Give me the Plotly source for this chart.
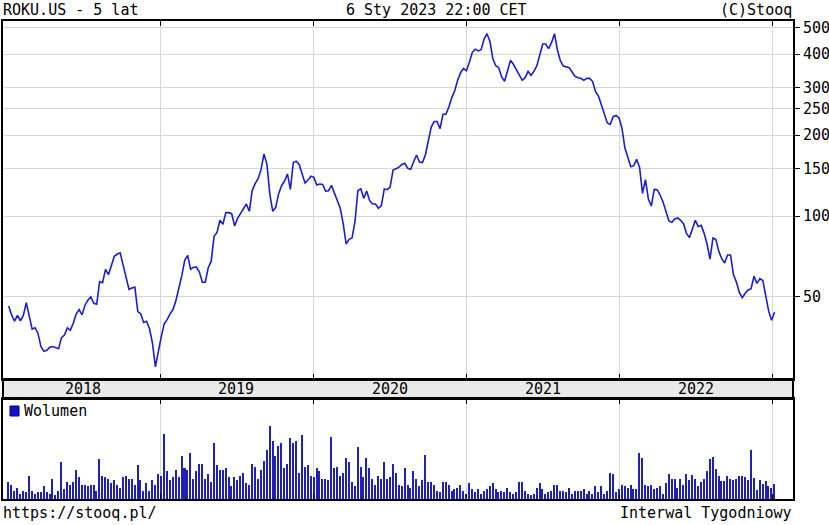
import pandas as pd
import plotly.graph_objects as go

# ---- data ----
start_date = "2018-01-05"
n_weeks = 262

prices = [
    46.3, 42.9, 40.7, 42.7, 40.8, 42.7, 47.6, 42.6, 38.0, 38.4,
    36.6, 32.7, 31.4, 31.7, 32.5, 32.7, 32.3, 32.1, 35.3, 36.1,
    38.4, 37.6, 39.9, 43.2, 44.9, 42.9, 46.6, 48.6, 50.0, 47.4,
    47.0, 57.0, 56.5, 63.3, 60.5, 65.7, 70.8, 72.2, 73.0, 65.7,
    58.5, 53.4, 54.0, 54.4, 44.1, 43.3, 40.2, 40.6, 38.1, 33.7,
    27.5, 31.5, 35.6, 39.7, 41.2, 43.3, 44.9, 48.5, 53.4, 60.0,
    68.4, 71.4, 63.4, 64.5, 64.6, 61.9, 56.7, 56.7, 64.2, 67.8,
    84.0, 86.9, 96.4, 93.1, 102.9, 102.9, 102.0, 91.8, 98.0, 102.3,
    107.4, 110.8, 104.1, 124.6, 131.9, 137.7, 148.7, 170.0, 156.0, 120.4,
    104.1, 107.7, 121.1, 129.6, 134.9, 143.3, 125.6, 158.2, 160.0, 155.5,
    143.3, 132.6, 136.1, 140.5, 139.2, 130.4, 131.5, 131.1, 123.8, 124.2,
    130.0, 121.4, 114.7, 106.8, 93.7, 78.7, 81.9, 82.8, 95.0, 124.2,
    126.3, 116.3, 123.8, 114.0, 110.8, 110.8, 106.8, 109.3, 126.0, 125.3,
    128.2, 148.3, 149.9, 152.0, 155.5, 157.0, 150.4, 149.1, 159.1, 168.6,
    158.7, 157.9, 168.6, 188.4, 214.0, 224.5, 224.5, 211.3, 238.8, 238.8,
    254.2, 275.6, 292.1, 319.5, 341.0, 354.0, 346.7, 372.6, 406.0, 417.0,
    411.0, 415.0, 455.0, 476.0, 446.0, 384.0, 362.0, 356.0, 328.6, 316.8,
    351.0, 379.0, 366.5, 351.0, 332.5, 319.5, 326.8, 345.0, 333.0, 345.0,
    362.0, 400.0, 436.0, 436.0, 419.0, 441.0, 476.0, 414.0, 378.0, 361.0,
    358.0, 356.0, 343.0, 330.5, 326.8, 324.9, 319.5, 324.9, 324.9, 316.0,
    290.0, 279.0, 258.7, 236.7, 221.7, 219.0, 234.0, 236.7, 231.5, 212.0,
    179.0, 165.3, 152.5, 153.9, 162.4, 151.7, 121.4, 136.4, 115.7, 108.9,
    125.6, 125.3, 119.7, 112.7, 104.1, 95.8, 94.7, 97.5, 98.3, 96.4,
    93.4, 86.2, 83.1, 89.7, 96.4, 91.3, 92.3, 86.2, 78.7, 69.2,
    82.8, 81.7, 73.9, 69.4, 66.9, 71.6, 71.6, 60.4, 56.8, 52.0,
    49.7, 51.6, 53.1, 53.7, 59.7, 56.2, 58.5, 57.6, 50.0, 44.3,
    41.0, 43.9,
]

volumes = [
    17.3, 14, 8, 11, 5, 8, 6.7, 23, 8, 5,
    6.7, 6.7, 12.7, 6.7, 5, 20, 3.7, 8, 37, 9.7,
    17.3, 14, 17.3, 29.3, 21.7, 14, 14, 12.7, 14, 14,
    8, 39.7, 23, 21.7, 20.3, 15.7, 18.7, 14, 11, 21.7,
    23, 20.3, 20.3, 14, 33.7, 18.7,
    8, 15.7, 8, 18.7, 14, 24.7, 23, 65, 27.7, 18.7,
    21.7, 29.3, 21.7, 42.7, 30.7, 29.3, 45.7, 20.3, 27.7, 35.3,
    35.3, 20.3, 24.7, 17.3, 56.3, 33.7, 29.3, 29.3, 30.7, 21.7,
    12.7, 21.7, 18.7, 23, 26.3, 15.7, 14, 35.3, 32.3, 20.3,
    29.3, 38.3, 49, 73, 58, 43,
    53, 56.3, 30.7, 35.3, 61, 56.3, 58, 26.3, 64, 32.3,
    33.7, 23, 21.7, 30.7, 27.7, 20.3, 20.3, 18.7, 62.3, 30.7,
    32.3, 23, 26.3, 41.3, 37, 17.3, 12.7, 52, 32.3, 21.7,
    41.3, 30.7, 20.3, 14, 23, 20.3, 37, 20.3, 21.7, 35.3,
    26.3, 14, 12.7, 30.7, 14,
    11, 27.7, 20.3, 12.7, 18.7, 44.3, 17.3, 17.3, 14, 8,
    6.7, 17.3, 17.3, 14, 8, 9.7, 11, 14, 8, 5,
    15.7, 9.7, 6.7, 9.7, 5, 8, 9.7, 12.7, 15.7, 9.7,
    6.7, 8, 6.7, 11, 6.7, 5, 6.7, 17.3, 17.3, 8,
    5, 3.7, 5, 11, 15.7, 9.7,
    5, 6.7, 8, 14, 14, 8, 8, 6.7, 11, 5,
    8, 8, 8, 9.7, 5, 8, 5, 12.7, 6.7, 12.7,
    5, 8, 26.3, 24.7, 6.7, 9.7, 14, 12.7, 11, 14,
    9.7, 9.7, 45.7, 41.3, 14, 12.7, 14, 9.7, 11, 12.7,
    5, 15.7, 24.7, 20.3, 20.3, 11,
    20, 14, 25, 19, 24, 20, 13, 17, 20, 28,
    40, 42, 30, 23, 18, 18, 23, 20, 19, 20,
    23, 23, 22, 19, 49, 21, 9, 19, 15, 18,
    13, 11, 15,
]

years = ["2018", "2019", "2020", "2021", "2022"]
year_mid_dates = ["2018-07-02", "2019-07-02", "2020-07-02", "2021-07-02", "2022-07-02"]
year_bounds = ["2019-01-01", "2020-01-01", "2021-01-01", "2022-01-01", "2023-01-01"]
price_ticks = [50, 100, 150, 200, 250, 300, 400, 500]

dates = pd.date_range(start_date, periods=n_weeks, freq="7D")

# ---- geometry (pixels of 829x525 canvas) ----
W, H = 829, 525
def px(x):
    return x / W
def py(y):
    return 1 - y / H

XL, XR = px(3), px(793)
main_dom = [py(379), py(21)]
vol_dom = [py(499), py(399)]
x_range = ["2017-12-22 11:00", "2023-02-19 00:00"]
y_range = [1.3941, 2.7249]

FONT = "DejaVu Sans Mono"
GRID = "#d6d6d6"
LINE_COL = "#1e1ec8"
BAR_COL = "#2020b4"

fig = go.Figure()
fig.add_trace(go.Scatter(x=dates, y=prices, mode="lines",
                         line=dict(color=LINE_COL, width=1.6),
                         xaxis="x", yaxis="y", showlegend=False, hoverinfo="x+y"))
fig.add_trace(go.Bar(x=dates, y=volumes, marker=dict(color=BAR_COL, line=dict(width=0)),
                     width=86400000 * 3.6, xaxis="x2", yaxis="y2", showlegend=False))

common_x = dict(type="date", range=x_range, tickvals=year_bounds, showticklabels=False,
                ticks="inside", ticklen=5, tickcolor="black", tickwidth=1,
                showline=True, linecolor="black", linewidth=2, mirror="ticks",
                showgrid=True, gridcolor=GRID, gridwidth=1, zeroline=False,
                fixedrange=True)

fig.update_layout(
    width=W, height=H,
    margin=dict(l=0, r=0, t=0, b=0),
    paper_bgcolor="white", plot_bgcolor="white",
    bargap=0,
    xaxis=dict(domain=[XL, XR], anchor="y", **common_x),
    xaxis2=dict(domain=[XL, XR], anchor="y2", **common_x),
    yaxis=dict(domain=main_dom, anchor="x", type="log", range=y_range, side="right",
               tickvals=price_ticks, ticktext=[str(v) for v in price_ticks],
               ticks="outside", ticklen=5, tickcolor="black",
               tickfont=dict(family=FONT, size=15, color="black"),
               showline=True, linecolor="black", linewidth=2, mirror=True,
               showgrid=True, gridcolor=GRID, gridwidth=1, zeroline=False,
               automargin=False),
    yaxis3=dict(overlaying="y", anchor="x", type="log", range=y_range, side="left",
                tickvals=price_ticks, showticklabels=False, ticks="inside", ticklen=4,
                tickcolor="black", showgrid=False, showline=False, zeroline=False),
    yaxis2=dict(domain=vol_dom, anchor="x2", range=[0, 100], showticklabels=False,
                ticks="", showgrid=False, zeroline=False,
                showline=True, linecolor="black", linewidth=2, mirror=True),
    font=dict(family=FONT, size=15, color="black"),
)

shapes = [
    # year band between the panels
    dict(type="rect", xref="paper", yref="paper", x0=XL, x1=XR, y0=py(399), y1=py(379),
         fillcolor="#e9e9e9", line=dict(color="black", width=2), layer="below"),
    # legend swatch
    dict(type="rect", xref="paper", yref="paper", x0=px(10), x1=px(19), y0=py(416), y1=py(406),
         fillcolor="#1212d0", line=dict(color="#000070", width=1)),
]
fig.update_layout(shapes=shapes)

ann = []
for yr, mid in zip(years, year_mid_dates):
    ann.append(dict(x=mid, xref="x", y=py(389), yref="paper", text=yr, showarrow=False,
                    xanchor="center", yanchor="middle", font=dict(family=FONT, size=15)))
ann += [
    dict(x=px(1), y=py(10), xref="paper", yref="paper", text="ROKU.US - 5 lat",
         showarrow=False, xanchor="left", yanchor="middle", font=dict(family=FONT, size=15)),
    dict(x=px(436), y=py(10), xref="paper", yref="paper", text="6 Sty 2023 22:00 CET",
         showarrow=False, xanchor="center", yanchor="middle", font=dict(family=FONT, size=15)),
    dict(x=px(794), y=py(10), xref="paper", yref="paper", text="(C)Stooq",
         showarrow=False, xanchor="right", yanchor="middle", font=dict(family=FONT, size=15)),
    dict(x=px(22), y=py(411), xref="paper", yref="paper", text="Wolumen",
         showarrow=False, xanchor="left", yanchor="middle", font=dict(family=FONT, size=15)),
    dict(x=px(1), y=py(513), xref="paper", yref="paper", text="https://stooq.pl/",
         showarrow=False, xanchor="left", yanchor="middle", font=dict(family=FONT, size=15)),
    dict(x=px(794), y=py(513), xref="paper", yref="paper", text="Interwal Tygodniowy",
         showarrow=False, xanchor="right", yanchor="middle", font=dict(family=FONT, size=15)),
]
fig.update_layout(annotations=ann)

fig.write_html("out.html",
               config={"displayModeBar": False},
               post_script="document.body.style.margin='0';document.body.style.overflow='hidden';")
